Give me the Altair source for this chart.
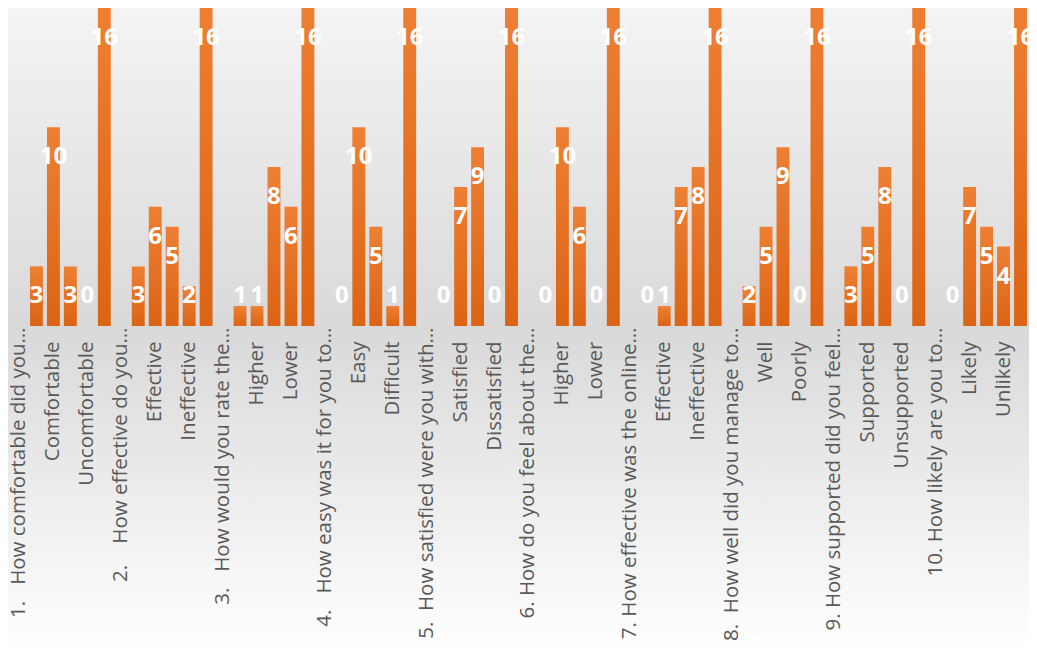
import json
import altair as alt
import pandas as pd

NB = "\u00a0"
headers = [
    "1." + NB * 3 + "How comfortable did you…",
    "2." + NB * 4 + "How effective do you…",
    "3." + NB * 3 + "How would you rate the…",
    "4." + NB * 3 + "How easy was it for you to…",
    "5." + NB * 2 + "How satisfied were you with…",
    "6." + NB + "How do you feel about the…",
    "7." + NB + "How effective was the online…",
    "8." + NB * 2 + "How well did you manage to…",
    "9." + NB + "How supported did you feel…",
    "10." + NB + "How likely are you to…",
]
options = [
    ["Very comfortable", "Comfortable", "Neutral", "Uncomfortable", "Total"],
    ["Very effective", "Effective", "Neutral", "Ineffective", "Total"],
    ["Much higher", "Higher", "About the same", "Lower", "Total"],
    ["Very easy", "Easy", "Neutral", "Difficult", "Total"],
    ["Very satisfied", "Satisfied", "Neutral", "Dissatisfied", "Total"],
    ["Much higher", "Higher", "About the same", "Lower", "Total"],
    ["Very effective", "Effective", "Neutral", "Ineffective", "Total"],
    ["Very well", "Well", "Neutral", "Poorly", "Total"],
    ["Very supported", "Supported", "Neutral", "Unsupported", "Total"],
    ["Very likely", "Likely", "Neutral", "Unlikely", "Total"],
]
counts = [
    [3, 10, 3, 0, 16],
    [3, 6, 5, 2, 16],
    [1, 1, 8, 6, 16],
    [0, 10, 5, 1, 16],
    [0, 7, 9, 0, 16],
    [0, 10, 6, 0, 16],
    [0, 1, 7, 8, 16],
    [2, 5, 9, 0, 16],
    [3, 5, 8, 0, 16],
    [0, 7, 5, 4, 16],
]

rows = []
labels = []
for h, opts, vals in zip(headers, options, counts):
    rows.append({"idx": len(labels), "category": h, "value": None})
    labels.append(h)
    for o, v in zip(opts, vals):
        rows.append({"idx": len(labels), "category": o, "value": v})
        labels.append(o)
df = pd.DataFrame(rows)
n = len(labels)
shown = [lab if i % 2 == 0 else "" for i, lab in enumerate(labels)]
label_expr = json.dumps(shown, ensure_ascii=False) + "[datum.value]"

W, H = 1018, 316

bg = alt.Chart(alt.Data(values=[{}])).mark_rect(
    color=alt.LinearGradient(
        gradient="linear", x1=0, y1=0, x2=0, y2=1,
        stops=[
            alt.GradientStop(offset=0, color="#f4f4f4"),
            alt.GradientStop(offset=0.5, color="#d9d9d9"),
            alt.GradientStop(offset=1, color="#ffffff"),
        ],
    )
).encode(x=alt.value(-3), x2=alt.value(W), y=alt.value(-2), y2=alt.value(640))

xenc = alt.X(
    "idx:O",
    scale=alt.Scale(domain=list(range(n)), paddingInner=0.24, paddingOuter=0.12),
    axis=alt.Axis(
        title=None,
        labelAngle=-90,
        labelExpr=label_expr,
        labelFont="Open Sans",
        labelFontSize=20.5,
        labelColor="#595959",
        labelPadding={"condition": {"test": "datum.value % 6 == 0", "value": 1}, "value": 15},
        labelLimit=0,
        labelOverlap=False,
        domain=False,
        ticks=False,
        zindex=1,
    ),
)
yscale = alt.Scale(domain=[0, 15.9], nice=False, zero=True)

bars = alt.Chart(df).mark_bar(
    color=alt.LinearGradient(
        gradient="linear", x1=0, y1=0, x2=0, y2=1,
        stops=[
            alt.GradientStop(offset=0, color="#ee7f33"),
            alt.GradientStop(offset=1, color="#dc6414"),
        ],
    )
).encode(x=xenc, y=alt.Y("value:Q", scale=yscale, axis=None))

texts = alt.Chart(df).transform_filter("isValid(datum.value)").transform_calculate(
    ly="max(datum.value, 3)"
).mark_text(
    font="Open Sans", fontSize=24, fontWeight="bold", color="white", baseline="middle", dy=30
).encode(x=xenc, y=alt.Y("ly:Q", scale=yscale, axis=None), text="value:Q")

chart = alt.layer(bg, bars, texts).properties(
    width=W, height=H,
    autosize=alt.AutoSizeParams(type="none"),
    padding={"left": 3, "top": 2, "right": 0, "bottom": 322},
).configure_view(stroke=None)

chart.save("out.html", embed_options={"renderer": "svg", "actions": False})
